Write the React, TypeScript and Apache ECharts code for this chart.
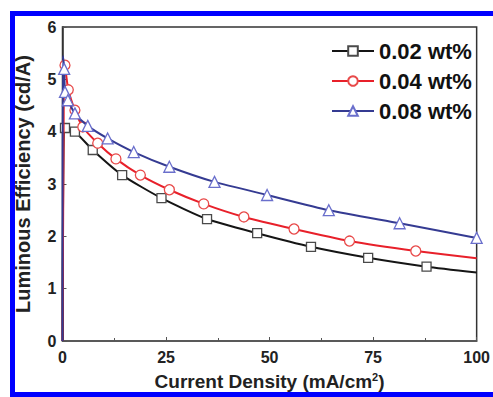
import React, { useEffect, useRef } from "react";
import * as echarts from "echarts";

const seriesNames = ["0.02 wt%", "0.04 wt%", "0.08 wt%"];

const x002 = [0, 0.6, 3, 7.3, 14.4, 23.9, 34.9, 47, 60, 73.8, 87.9, 100];
const y002 = [0, 4.07, 4.0, 3.65, 3.17, 2.73, 2.33, 2.06, 1.8, 1.59, 1.42, 1.31];

const x004 = [0, 0.6, 1.4, 3, 4.9, 8.5, 12.9, 18.8, 25.8, 34.1, 43.8, 55.9, 69.3, 85.3, 100];
const y004 = [0, 5.27, 4.8, 4.41, 4.09, 3.78, 3.48, 3.17, 2.89, 2.62, 2.37, 2.14, 1.91, 1.72, 1.58];

const x008 = [0, 0.1, 0.4, 0.6, 1.3, 3, 6.1, 10.9, 17.2, 25.8, 36.7, 49.4, 64.3, 81.4, 100];
const y008 = [0, 5.45, 5.2, 4.76, 4.6, 4.35, 4.11, 3.87, 3.61, 3.33, 3.04, 2.79, 2.5, 2.25, 1.97];

const xTicks = [0, 25, 50, 75, 100];
const yTicks = [0, 1, 2, 3, 4, 5, 6];

const FONT = "'Liberation Sans', Arial, sans-serif";

function build(xs: number[], ys: number[], noMarker: (i: number, n: number) => boolean) {
  return xs.map((x, i) => {
    const item: any = { value: [x, ys[i]] };
    if (noMarker(i, xs.length)) item.symbol = "none";
    return item;
  });
}

export default function App() {
  const ref = useRef<HTMLDivElement>(null);
  useEffect(() => {
    if (!ref.current) return;
    const chart = echarts.init(ref.current, undefined, { renderer: "svg" });
    const axisLabel = { fontFamily: FONT, fontWeight: "bold", fontSize: 16, color: "#222" };
    chart.setOption({
      animation: false,
      backgroundColor: "#fff",
      grid: {
        left: 62.5,
        right: 10,
        top: 27,
        bottom: 56,
        show: true,
        borderColor: "#333",
        borderWidth: 1.5,
      },
      graphic: [
        {
          type: "rect",
          shape: { x: 12.5, y: 13.5, width: 520, height: 381 },
          style: { fill: "none", stroke: "#0000ff", lineWidth: 5 },
          z: 100,
          silent: true,
        },
      ],
      legend: {
        orient: "vertical",
        left: 326,
        top: 34,
        itemWidth: 42,
        itemHeight: 12,
        itemGap: 6,
        textStyle: {
          fontFamily: FONT,
          fontWeight: "bold",
          fontSize: 22,
          color: "#111",
          lineHeight: 24,
        },
        data: seriesNames,
      },
      xAxis: {
        type: "value",
        min: 0,
        max: 100,
        interval: 25,
        name: "Current Density (mA/cm{sup|2})",
        nameLocation: "middle",
        nameGap: 30,
        nameTextStyle: {
          fontFamily: FONT,
          fontWeight: "bold",
          fontSize: 19,
          color: "#222",
          rich: {
            sup: { fontFamily: FONT, fontWeight: "bold", fontSize: 11, verticalAlign: "top", padding: [0, 0, 10, 0], color: "#222" },
          },
        },
        axisLine: { show: true, lineStyle: { color: "#555", width: 1.5 } },
        axisTick: { show: true, inside: true, length: 4, lineStyle: { color: "#555" } },
        minorTick: { show: true, splitNumber: 2, length: 3, lineStyle: { color: "#555" } },
        axisLabel: { ...axisLabel, margin: 8, formatter: (v: number) => (xTicks.includes(v) ? String(v) : "") },
        splitLine: { show: false },
      },
      yAxis: {
        type: "value",
        min: 0,
        max: 6,
        interval: 1,
        name: "Luminous Efficiency (cd/A)",
        nameLocation: "middle",
        nameGap: 30,
        nameTextStyle: { fontFamily: FONT, fontWeight: "bold", fontSize: 20, color: "#222" },
        axisLine: { show: true, lineStyle: { color: "#333", width: 1.5 } },
        axisTick: { show: true, inside: true, length: 4, lineStyle: { color: "#555" } },
        axisLabel: { ...axisLabel, margin: 6, formatter: (v: number) => (yTicks.includes(v) ? String(v) : "") },
        splitLine: { show: false },
      },
      series: [
        {
          name: seriesNames[0],
          type: "line",
          smooth: 0.2,
          symbol: "rect",
          symbolSize: 9,
          data: build(x002, y002, (i, n) => i === 0 || i === n - 1),
          lineStyle: { color: "#151515", width: 2 },
          itemStyle: { color: "#fff", borderColor: "#4a4a4a", borderWidth: 1.3 },
          z: 2,
        },
        {
          name: seriesNames[1],
          type: "line",
          smooth: 0.2,
          symbol: "circle",
          symbolSize: 10,
          data: build(x004, y004, (i, n) => i === 0 || i === n - 1),
          lineStyle: { color: "#e8202a", width: 2 },
          itemStyle: { color: "#fff", borderColor: "#e84a4a", borderWidth: 1.3 },
          z: 3,
        },
        {
          name: seriesNames[2],
          type: "line",
          smooth: 0.2,
          symbol: "triangle",
          symbolSize: 11,
          data: build(x008, y008, (i) => i <= 1),
          lineStyle: { color: "#353b92", width: 2 },
          itemStyle: { color: "#fff", borderColor: "#6a6fcc", borderWidth: 1.3 },
          z: 4,
        },
      ],
    });
    return () => chart.dispose();
  }, []);
  return (
    <div style={{ position: "absolute", left: 0, top: 0, width: 493, height: 397, background: "#fff" }}>
      <div ref={ref} style={{ width: 493, height: 397 }} />
    </div>
  );
}
